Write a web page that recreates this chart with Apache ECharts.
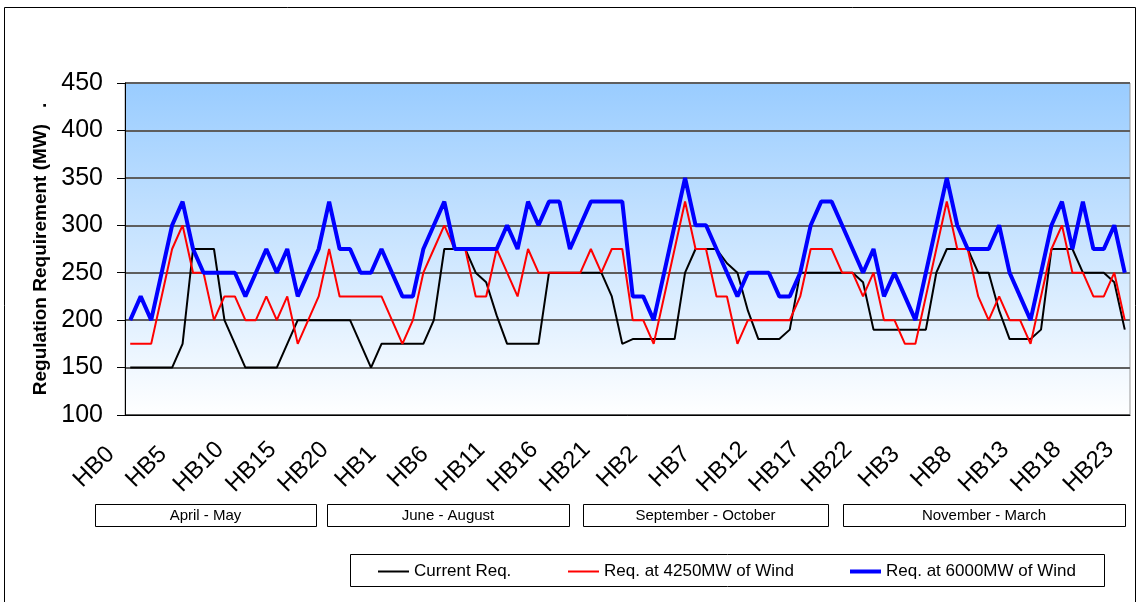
<!DOCTYPE html>
<html>
<head>
<meta charset="utf-8">
<script src="https://cdn.jsdelivr.net/npm/echarts@6/dist/echarts.min.js"></script>
<style>
  html, body { margin: 0; padding: 0; background: #fff; }
  #chart { width: 1140px; height: 602px; }
</style>
</head>
<body>
<div id="chart"></div>
<script>
// four seasonal blocks, 24 hour blocks each
var periods = ['April - May', 'June - August', 'September - October', 'November - March'];
var hours = ['HB0','HB1','HB2','HB3','HB4','HB5','HB6','HB7','HB8','HB9','HB10','HB11',
             'HB12','HB13','HB14','HB15','HB16','HB17','HB18','HB19','HB20','HB21','HB22','HB23'];
var seriesNames = ['Current Req.', 'Req. at 4250MW of Wind', 'Req. at 6000MW of Wind'];

var currentReq = [
  150,150,150,150,150,175,275,275,275,200,175,150,150,150,150,175,200,200,200,200,200,200,175,150,
  175,175,175,175,175,200,275,275,275,250,240,205,175,175,175,175,250,250,250,250,250,250,225,175,
  180,180,180,180,180,250,275,275,275,260,250,210,180,180,180,190,250,250,250,250,250,250,240,190,
  190,190,190,190,190,250,275,275,275,250,250,210,180,180,180,190,275,275,275,250,250,250,240,190
];
var wind4250 = [
  175,175,175,225,275,300,250,250,200,225,225,200,200,225,200,225,175,200,225,275,225,225,225,225,
  225,200,175,200,250,275,300,275,275,225,225,275,250,225,275,250,250,250,250,250,275,250,275,275,
  200,200,175,225,275,325,275,275,225,225,175,200,200,200,200,200,225,275,275,275,250,250,225,250,
  200,200,175,175,225,275,325,275,275,225,200,225,200,200,175,225,275,300,250,250,225,225,250,200
];
var wind6000 = [
  200,225,200,250,300,325,275,250,250,250,250,225,250,275,250,275,225,250,275,325,275,275,250,250,
  275,250,225,225,275,300,325,275,275,275,275,275,300,275,325,300,325,325,275,300,325,325,325,325,
  225,225,200,250,300,350,300,300,275,250,225,250,250,250,225,225,250,300,325,325,300,275,250,275,
  225,250,225,200,250,300,350,300,275,275,275,300,250,225,200,250,300,325,275,325,275,275,300,250
];

var categories = [];
periods.forEach(function(p){
  hours.forEach(function(h){ categories.push(h); });
});

var font = 'Liberation Sans, Arial, sans-serif';
var chartDom = document.getElementById('chart');
var myChart = echarts.init(chartDom);

// period boxes under the axis
var boxes = [[95, 221], [327, 242], [583, 245], [843, 282]];
var graphics = [
  { type: 'rect', shape: { x: 4.5, y: 7.5, width: 1131, height: 620 },
    style: { fill: 'none', stroke: '#000', lineWidth: 1 }, silent: true },
  { type: 'rect', shape: { x: 350.5, y: 554.5, width: 754, height: 32 },
    style: { fill: '#fff', stroke: '#000', lineWidth: 1 }, z: 0 }
];
periods.forEach(function(p, i){
  graphics.push({
    type: 'rect', shape: { x: boxes[i][0] + 0.5, y: 504.5, width: boxes[i][1], height: 22 },
    style: { fill: '#fff', stroke: '#000', lineWidth: 1 }
  });
  graphics.push({
    type: 'text', x: boxes[i][0] + boxes[i][1] / 2, y: 516,
    style: { text: p, fill: '#000', font: '15px ' + font, textAlign: 'center', textVerticalAlign: 'middle' }
  });
});

var legendLeft = [378, 568, 850];
var colors = ['#000000', '#FF0000', '#0000FF'];
var widths = [2, 2, 4];

var option = {
  animation: false,
  backgroundColor: '#fff',
  graphic: graphics,
  legend: seriesNames.map(function(n, i){
    return {
      data: [{ name: n, icon: 'rect' }], left: legendLeft[i], top: 563,
      itemWidth: 31, itemHeight: widths[i], padding: 0,
      textStyle: { fontFamily: font, fontSize: 17, color: '#000' }
    };
  }),
  grid: {
    left: 125, right: 10, top: 83, bottom: 187, show: true,
    borderColor: '#999', borderWidth: 1,
    backgroundColor: new echarts.graphic.LinearGradient(0, 0, 0, 1, [
      { offset: 0, color: '#99CCFF' },
      { offset: 1, color: '#FFFFFF' }
    ])
  },
  xAxis: {
    type: 'category',
    data: categories,
    boundaryGap: true,
    axisLine: { lineStyle: { color: '#000', width: 1 } },
    axisTick: { interval: 0, length: 6, lineStyle: { color: '#000' } },
    axisLabel: {
      interval: 4, rotate: 45, margin: 16, align: 'center', verticalAlign: 'middle',
      padding: [0, 102, 0, 0],
      fontFamily: font, fontSize: 24, color: '#000'
    },
    splitLine: { show: false }
  },
  yAxis: {
    type: 'value',
    min: 100, max: 450, interval: 50,
    name: 'Regulation Requirement (MW)   .',
    nameLocation: 'middle', nameGap: 74,
    nameTextStyle: { fontFamily: font, fontSize: 19, fontWeight: 'bold', color: '#000' },
    axisLine: { show: true, lineStyle: { color: '#000', width: 1 } },
    axisTick: { show: true, length: 8, lineStyle: { color: '#000' } },
    axisLabel: { fontFamily: font, fontSize: 25, color: '#000', margin: 22 },
    splitLine: { lineStyle: { color: '#5e5e5e', width: 2 } }
  },
  series: [currentReq, wind4250, wind6000].map(function(d, i){
    return {
      name: seriesNames[i], type: 'line', data: d, symbol: 'none',
      color: colors[i], lineStyle: { color: colors[i], width: widths[i] }
    };
  })
};
myChart.setOption(option);
</script>
</body>
</html>
